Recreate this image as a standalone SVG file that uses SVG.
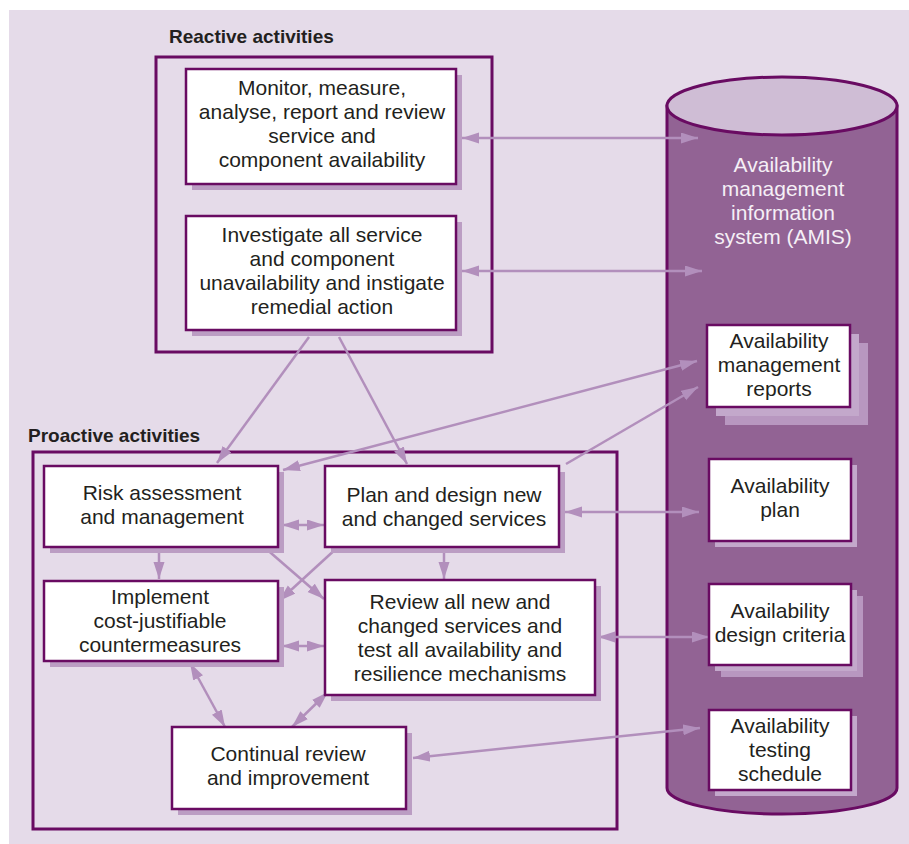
<svg xmlns="http://www.w3.org/2000/svg" width="909" height="844" viewBox="0 0 909 844">
<defs>
<style>
.bg{fill:#e5dbe9}
.frame{fill:none;stroke:#690b62;stroke-width:3}
.box{fill:#ffffff;stroke:#690b62;stroke-width:2.5}
.sh{fill:#bb9dc3}
.sh2{fill:#c3a8cb}
.sh3{fill:#b897c0}
.t{font-family:"Liberation Sans",Arial,sans-serif;font-size:21px;fill:#231f20;text-anchor:middle}
.tw{font-family:"Liberation Sans",Arial,sans-serif;font-size:21px;fill:#f5eff6;text-anchor:middle}
.title{font-family:"Liberation Sans",Arial,sans-serif;font-size:19px;font-weight:bold;fill:#231f20}
.c{fill:none;stroke:#b28fbc;stroke-width:2.5}
</style>
<marker id="ah" markerUnits="userSpaceOnUse" markerWidth="18" markerHeight="12" refX="17" refY="5.5" orient="auto-start-reverse" viewBox="0 0 18 12">
<path d="M0,0 L17,5.5 L0,11 Z" fill="#b28fbc"/>
</marker>
</defs>
<rect class="bg" x="9" y="10" width="900" height="834"/>

<g id="reactive-frame">
<text class="title" x="169" y="43">Reactive activities</text>
<rect class="frame" x="156" y="57" width="336" height="295"/>
</g>
<g id="proactive-frame">
<text class="title" x="28" y="442">Proactive activities</text>
<rect class="frame" x="33" y="452" width="584" height="377"/>
</g>

<g id="amis">
<path d="M667,106 L667,788 A115,26 0 0 0 897,788 L897,106 Z" fill="#926394" stroke="#690b62" stroke-width="3"/>
<ellipse cx="782" cy="106" rx="115" ry="29" fill="#cfbdd5" stroke="#690b62" stroke-width="3"/>
<text class="tw" x="783" y="172">Availability<tspan x="783" dy="24">management</tspan><tspan x="783" dy="24">information</tspan><tspan x="783" dy="24">system (AMIS)</tspan></text>
</g>

<g id="connectors">
<line class="c" x1="462" y1="138" x2="698" y2="138" marker-start="url(#ah)" marker-end="url(#ah)"/>
<line class="c" x1="462" y1="271" x2="702" y2="271" marker-start="url(#ah)" marker-end="url(#ah)"/>
<line class="c" x1="309" y1="337" x2="217" y2="463" marker-end="url(#ah)"/>
<line class="c" x1="339" y1="337" x2="407" y2="464" marker-end="url(#ah)"/>
<line class="c" x1="283" y1="470" x2="697" y2="361" marker-start="url(#ah)" marker-end="url(#ah)"/>
<line class="c" x1="566" y1="464" x2="698" y2="387" marker-end="url(#ah)"/>
<line class="c" x1="282" y1="525" x2="324" y2="525" marker-start="url(#ah)" marker-end="url(#ah)"/>
<line class="c" x1="264" y1="547" x2="324" y2="599" marker-end="url(#ah)"/>
<line class="c" x1="338" y1="547" x2="279" y2="601" marker-end="url(#ah)"/>
<line class="c" x1="159" y1="553" x2="159" y2="579" marker-end="url(#ah)"/>
<line class="c" x1="444" y1="553" x2="444" y2="579" marker-end="url(#ah)"/>
<line class="c" x1="282" y1="646" x2="324" y2="646" marker-start="url(#ah)" marker-end="url(#ah)"/>
<line class="c" x1="190" y1="663" x2="225" y2="727" marker-start="url(#ah)" marker-end="url(#ah)"/>
<line class="c" x1="328" y1="692" x2="292" y2="727" marker-start="url(#ah)" marker-end="url(#ah)"/>
<line class="c" x1="565" y1="512" x2="699" y2="512" marker-start="url(#ah)" marker-end="url(#ah)"/>
<line class="c" x1="598" y1="637" x2="709" y2="637" marker-start="url(#ah)" marker-end="url(#ah)"/>
<line class="c" x1="413" y1="758" x2="700" y2="728" marker-start="url(#ah)" marker-end="url(#ah)"/>
</g>

<g id="monitor">
<rect class="sh" x="192" y="75" width="270" height="115"/>
<rect class="box" x="186" y="69" width="270" height="115"/>
<text class="t" x="322" y="95">Monitor, measure,<tspan x="322" dy="24">analyse, report and review</tspan><tspan x="322" dy="24">service and</tspan><tspan x="322" dy="24">component availability</tspan></text>
</g>
<g id="investigate">
<rect class="sh" x="192" y="222" width="270" height="114"/>
<rect class="box" x="186" y="216" width="270" height="114"/>
<text class="t" x="322" y="242">Investigate all service<tspan x="322" dy="24">and component</tspan><tspan x="322" dy="24">unavailability and instigate</tspan><tspan x="322" dy="24">remedial action</tspan></text>
</g>

<g id="risk">
<rect class="sh" x="50" y="472" width="234" height="81"/>
<rect class="box" x="44" y="466" width="234" height="81"/>
<text class="t" x="162" y="500">Risk assessment<tspan x="162" dy="24">and management</tspan></text>
</g>
<g id="plan-design">
<rect class="sh" x="331" y="472" width="234" height="81"/>
<rect class="box" x="325" y="466" width="234" height="81"/>
<text class="t" x="444" y="502">Plan and design new<tspan x="444" dy="24">and changed services</tspan></text>
</g>
<g id="implement">
<rect class="sh" x="50" y="587" width="234" height="80"/>
<rect class="box" x="44" y="581" width="234" height="80"/>
<text class="t" x="160" y="604">Implement<tspan x="160" dy="24">cost-justifiable</tspan><tspan x="160" dy="24">countermeasures</tspan></text>
</g>
<g id="review">
<rect class="sh" x="331" y="586" width="270" height="115"/>
<rect class="box" x="325" y="580" width="270" height="115"/>
<text class="t" x="460" y="609">Review all new and<tspan x="460" dy="24">changed services and</tspan><tspan x="460" dy="24">test all availability and</tspan><tspan x="460" dy="24">resilience mechanisms</tspan></text>
</g>
<g id="continual">
<rect class="sh" x="178" y="733" width="234" height="82"/>
<rect class="box" x="172" y="727" width="234" height="82"/>
<text class="t" x="288" y="761">Continual review<tspan x="288" dy="24">and improvement</tspan></text>
</g>

<g id="reports">
<rect class="sh3" x="725" y="343" width="143" height="82"/>
<rect class="sh2" x="716" y="334" width="143" height="82"/>
<rect class="box" x="707" y="325" width="143" height="82"/>
<text class="t" x="779" y="348">Availability<tspan x="779" dy="24">management</tspan><tspan x="779" dy="24">reports</tspan></text>
</g>
<g id="avail-plan">
<rect class="sh2" x="715" y="465" width="142" height="82"/>
<rect class="box" x="709" y="459" width="142" height="82"/>
<text class="t" x="780" y="493">Availability<tspan x="780" dy="24">plan</tspan></text>
</g>
<g id="design-criteria">
<rect class="sh3" x="721" y="596" width="142" height="81"/>
<rect class="sh2" x="715" y="590" width="142" height="81"/>
<rect class="box" x="709" y="584" width="142" height="81"/>
<text class="t" x="780" y="618">Availability<tspan x="780" dy="24">design criteria</tspan></text>
</g>
<g id="testing">
<rect class="sh2" x="715" y="716" width="142" height="80"/>
<rect class="box" x="709" y="710" width="142" height="80"/>
<text class="t" x="780" y="733">Availability<tspan x="780" dy="24">testing</tspan><tspan x="780" dy="24">schedule</tspan></text>
</g>
</svg>
